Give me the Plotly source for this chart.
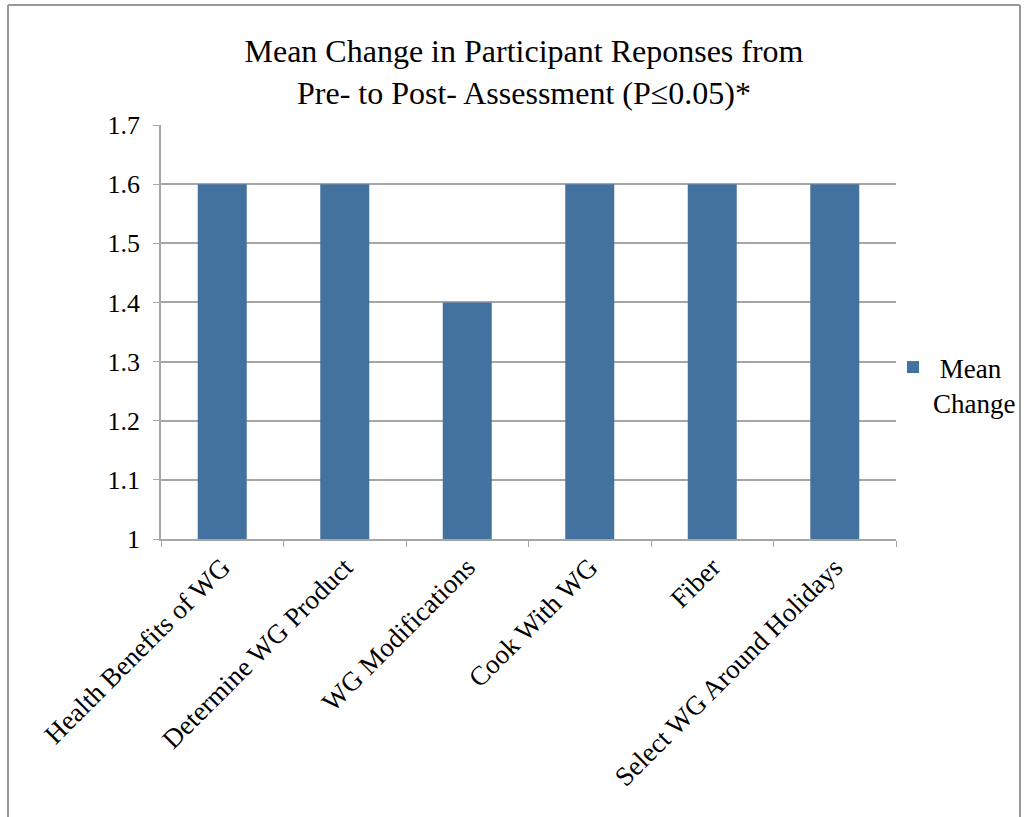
import plotly.graph_objects as go

categories = ["Health Benefits of WG", "Determine WG Product", "WG Modifications",
              "Cook With WG", "Fiber", "Select WG Around Holidays"]
mean_change = [1.6, 1.6, 1.4, 1.6, 1.6, 1.6]
y_ticks = [1, 1.1, 1.2, 1.3, 1.4, 1.5, 1.6, 1.7]
y_tick_text = ["1", "1.1", "1.2", "1.3", "1.4", "1.5", "1.6", "1.7"]
series_name = "&nbsp;Mean<br>Change"
title_text = "Mean Change in Participant Reponses from<br>Pre- to Post- Assessment (P≤0.05)*"

FONT = "Liberation Serif, Times New Roman, serif"
GRID = "#A6A6A6"

fig = go.Figure()
fig.add_trace(go.Bar(
    x=categories, y=mean_change, name=series_name,
    marker=dict(color="#44729F", line=dict(width=0)),
    width=0.4, base=0, showlegend=True,
))

L, R, T, B = 161, 130, 125, 278
W, H = 1026, 817
pw, ph = W - L - R, H - T - B

def px_x(px):
    return (px - L) / pw

def px_y(py):
    return (H - B - py) / ph

fig.update_layout(
    width=W, height=H,
    margin=dict(l=L, r=R, t=T, b=B, pad=0, autoexpand=False),
    paper_bgcolor="white", plot_bgcolor="white",
    font=dict(family=FONT, size=26, color="black"),
    title=dict(text=title_text, x=px_x(524), xref="paper", xanchor="center",
               y=1 - 62 / H, yanchor="middle", font=dict(size=32, family=FONT)),
    bargap=0.6,
    legend=dict(x=px_x(893), y=px_y(343), xanchor="left", yanchor="top",
                valign="top",
                font=dict(size=27, family=FONT), bgcolor="rgba(0,0,0,0)",
                itemsizing="constant"),
    xaxis=dict(type="category", tickangle=-45, tickson="boundaries",
               ticks="outside", ticklen=6, tickcolor=GRID, showline=True,
               linecolor=GRID, linewidth=1.5, showgrid=False, automargin=False,
               tickfont=dict(size=27, family=FONT)),
    yaxis=dict(range=[1, 1.7], tickvals=y_ticks, ticktext=y_tick_text,
               ticks="outside", ticklen=6, tickcolor=GRID, showline=True,
               linecolor=GRID, linewidth=1.5, showgrid=True, gridcolor=GRID,
               gridwidth=1.5, zeroline=False, ticklabelstandoff=8, automargin=False,
               tickfont=dict(size=26, family=FONT)),
    shapes=[
        dict(type="line", xref="paper", yref="paper", x0=px_x(8), x1=px_x(1020),
             y0=px_y(5), y1=px_y(5), line=dict(color="#999999", width=2)),
        dict(type="line", xref="paper", yref="paper", x0=px_x(8), x1=px_x(8),
             y0=px_y(5), y1=px_y(840), line=dict(color="#999999", width=2)),
        dict(type="line", xref="paper", yref="paper", x0=px_x(1020), x1=px_x(1020),
             y0=px_y(5), y1=px_y(840), line=dict(color="#999999", width=2)),
    ],
)

fig.write_html("out.html")
